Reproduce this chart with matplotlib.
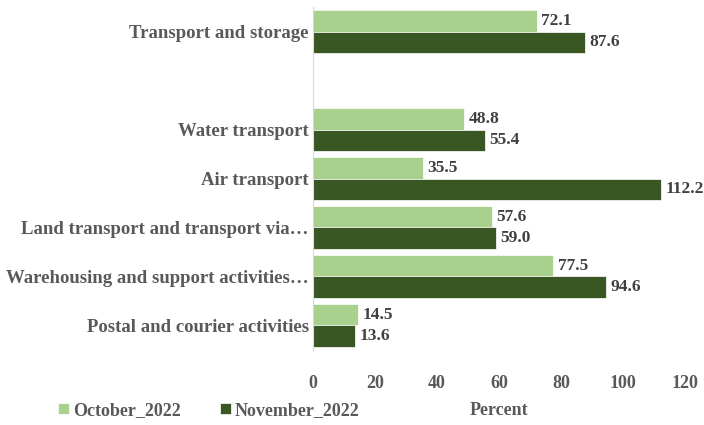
import numpy as np
import matplotlib
matplotlib.use("Agg")
import matplotlib.pyplot as plt

# categories from bottom to top; "" is the blank spacer row
categories = ["Postal and courier activities",
              "Warehousing and support activities\u2026",
              "Land transport and transport via\u2026",
              "Air transport",
              "Water transport",
              "",
              "Transport and storage"]
october_2022 = [14.5, 77.5, 57.6, 35.5, 48.8, None, 72.1]
november_2022 = [13.6, 94.6, 59.0, 112.2, 55.4, None, 87.6]
xticks = [0, 20, 40, 60, 80, 100, 120]

LIGHT, DARK = "#A9D18E", "#385723"
plt.rcParams["font.family"] = ["Liberation Serif", "DejaVu Serif"]
plt.rcParams["font.weight"] = "bold"

fig = plt.figure(figsize=(7.04, 4.25), dpi=100)
ax = fig.add_axes([0.4446, 0.1765, 0.5284, 0.807])

y = np.arange(len(categories))
h = 0.44
oct_v = [np.nan if v is None else v for v in october_2022]
nov_v = [np.nan if v is None else v for v in november_2022]
b1 = ax.barh(y + h / 2, oct_v, height=h, color=LIGHT, edgecolor="white", linewidth=0.5, label="October_2022")
b2 = ax.barh(y - h / 2, nov_v, height=h, color=DARK, edgecolor="white", linewidth=0.5, label="November_2022")

for bars, vals in ((b1, october_2022), (b2, november_2022)):
    for rect, v in zip(bars, vals):
        if v is None:
            continue
        ax.text(v + 1.5, rect.get_y() + rect.get_height() / 2, f"{v:.1f}",
                va="center", ha="left", fontsize=12.5, fontweight="bold", color="#404040")

ax.set_xlim(0, 120)
ax.set_ylim(-0.5, len(categories) - 0.5)
ax.set_xticks(xticks)
ax.set_yticks(y)
ax.set_yticklabels(categories, fontsize=13.5, color="#595959", fontweight="bold")
ax.tick_params(axis="y", length=0, pad=3)
ax.tick_params(axis="x", length=0, pad=18, labelsize=13, labelcolor="#595959")
for s in ("top", "right", "bottom"):
    ax.spines[s].set_visible(False)
ax.spines["left"].set_color("#D9D9D9")
ax.set_xlabel("Percent", fontsize=13, color="#595959", fontweight="bold", labelpad=7)

fig.legend(handles=[b1, b2], loc="center left", bbox_to_anchor=(0.06, 0.035), ncol=2,
           frameon=False, fontsize=13, handlelength=0.6, handleheight=0.6,
           handletextpad=0.2, columnspacing=2.2, labelcolor="#595959")

fig.savefig("out.png", dpi=100)
